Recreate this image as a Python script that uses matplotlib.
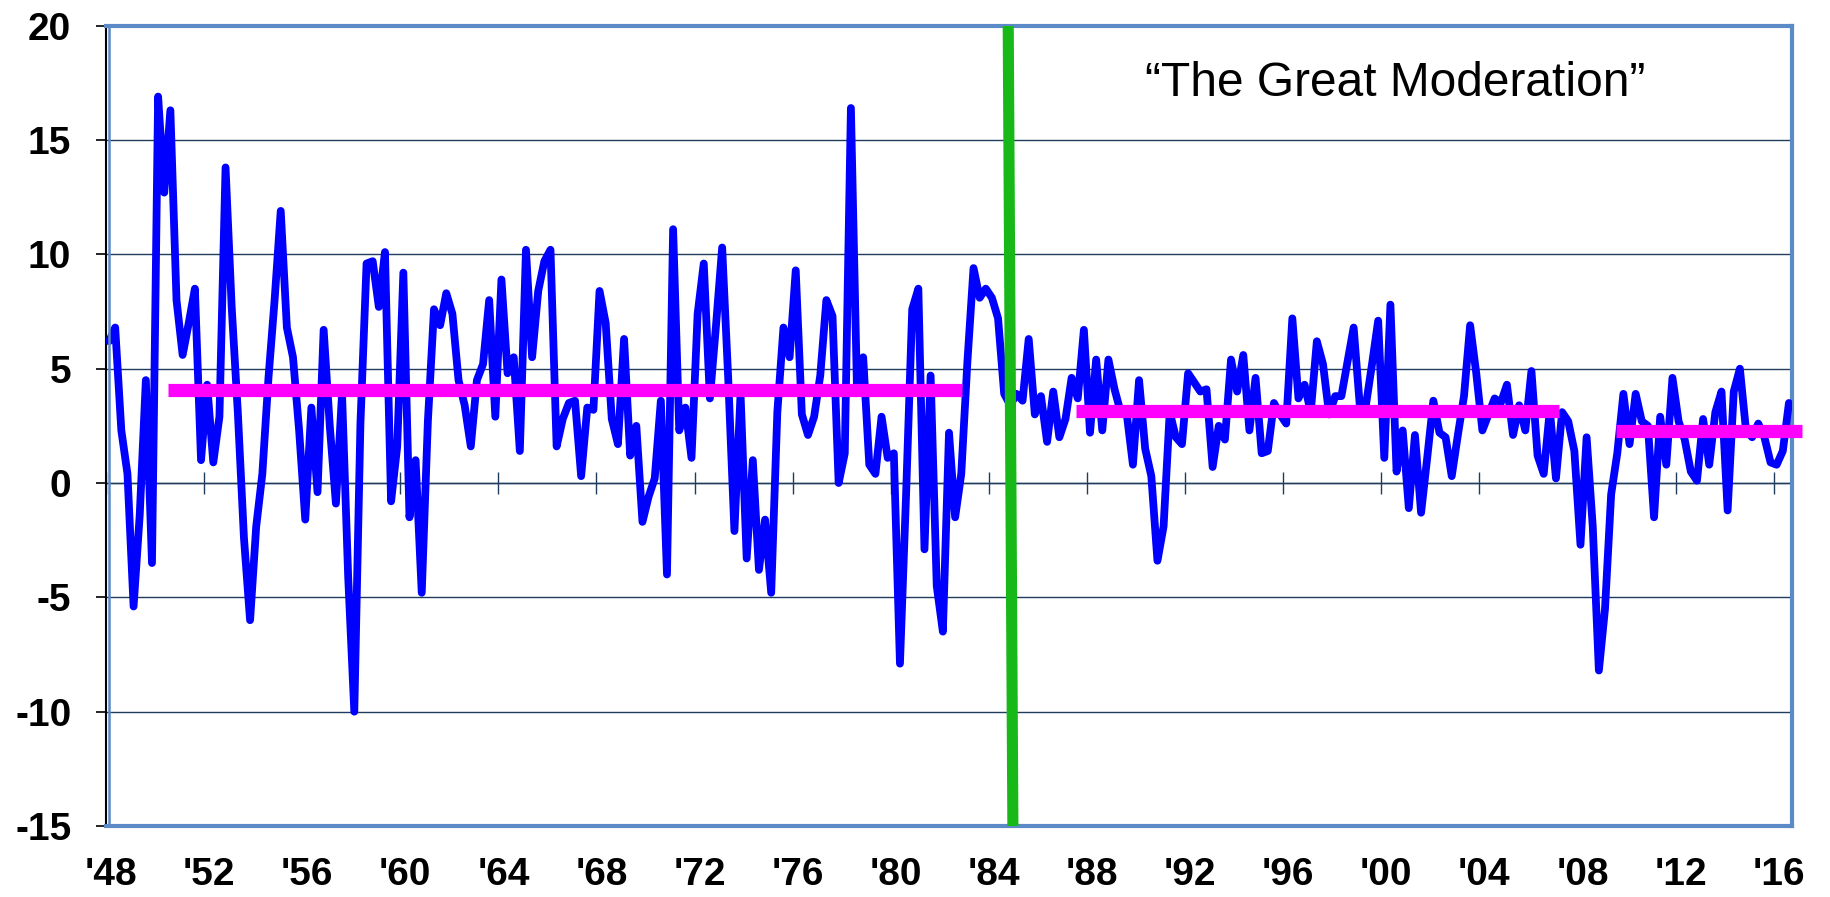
import numpy as np
import matplotlib
matplotlib.use("Agg")
import matplotlib.pyplot as plt
from matplotlib.transforms import offset_copy, ScaledTranslation

plt.rcParams['font.family'] = ['Liberation Sans', 'DejaVu Sans']

# real GDP growth, quarterly, annualized %, 1948Q1 .. 2016Q3
growth = [
    6.2, 6.8, 2.3, 0.4,      # 1948
    -5.4, -1.4, 4.5, -3.5,   # 1949
    16.9, 12.7, 16.3, 8.0,   # 1950
    5.6, 7.0, 8.5, 1.0,      # 1951
    4.3, 0.9, 2.9, 13.8,     # 1952
    7.7, 3.1, -2.4, -6.0,    # 1953
    -1.9, 0.4, 4.6, 8.0,     # 1954
    11.9, 6.8, 5.5, 2.3,     # 1955
    -1.6, 3.3, -0.4, 6.7,    # 1956
    2.5, -0.9, 3.9, -4.1,    # 1957
    -10.0, 2.6, 9.6, 9.7,    # 1958
    7.7, 10.1, -0.8, 1.6,    # 1959
    9.2, -1.5, 1.0, -4.8,    # 1960
    2.7, 7.6, 6.9, 8.3,      # 1961
    7.4, 4.5, 3.4, 1.6,      # 1962
    4.5, 5.2, 8.0, 2.9,      # 1963
    8.9, 4.8, 5.5, 1.4,      # 1964
    10.2, 5.5, 8.4, 9.7,     # 1965
    10.2, 1.6, 2.8, 3.5,     # 1966
    3.6, 0.3, 3.3, 3.2,      # 1967
    8.4, 7.0, 2.8, 1.7,      # 1968
    6.3, 1.2, 2.5, -1.7,     # 1969
    -0.6, 0.2, 3.6, -4.0,    # 1970
    11.1, 2.3, 3.3, 1.1,     # 1971
    7.4, 9.6, 3.7, 6.9,      # 1972
    10.3, 4.5, -2.1, 3.9,    # 1973
    -3.3, 1.0, -3.8, -1.6,   # 1974
    -4.8, 3.1, 6.8, 5.5,     # 1975
    9.3, 3.0, 2.1, 2.9,      # 1976
    4.7, 8.0, 7.3, 0.0,      # 1977
    1.3, 16.4, 4.0, 5.5,     # 1978
    0.8, 0.4, 2.9, 1.1,      # 1979
    1.3, -7.9, -0.5, 7.6,    # 1980
    8.5, -2.9, 4.7, -4.5,    # 1981
    -6.5, 2.2, -1.5, 0.4,    # 1982
    5.3, 9.4, 8.1, 8.5,      # 1983
    8.1, 7.2, 3.9, 3.4,      # 1984
    3.9, 3.6, 6.3, 3.0,      # 1985
    3.8, 1.8, 4.0, 2.0,      # 1986
    2.8, 4.6, 3.7, 6.7,      # 1987
    2.2, 5.4, 2.3, 5.4,      # 1988
    4.1, 3.1, 3.0, 0.8,      # 1989
    4.5, 1.5, 0.3, -3.4,     # 1990
    -1.9, 3.1, 2.0, 1.7,     # 1991
    4.8, 4.4, 4.0, 4.1,      # 1992
    0.7, 2.5, 1.9, 5.4,      # 1993
    4.0, 5.6, 2.3, 4.6,      # 1994
    1.3, 1.4, 3.5, 3.0,      # 1995
    2.6, 7.2, 3.7, 4.3,      # 1996
    3.1, 6.2, 5.2, 3.0,      # 1997
    3.8, 3.8, 5.3, 6.8,      # 1998
    3.4, 3.4, 5.2, 7.1,      # 1999
    1.1, 7.8, 0.5, 2.3,      # 2000
    -1.1, 2.1, -1.3, 1.1,    # 2001
    3.6, 2.2, 2.0, 0.3,      # 2002
    2.1, 3.8, 6.9, 4.8,      # 2003
    2.3, 3.0, 3.7, 3.5,      # 2004
    4.3, 2.1, 3.4, 2.3,      # 2005
    4.9, 1.2, 0.4, 3.2,      # 2006
    0.2, 3.1, 2.7, 1.4,      # 2007
    -2.7, 2.0, -1.9, -8.2,   # 2008
    -5.5, -0.5, 1.3, 3.9,    # 2009
    1.7, 3.9, 2.7, 2.5,      # 2010
    -1.5, 2.9, 0.8, 4.6,     # 2011
    2.7, 1.9, 0.5, 0.1,      # 2012
    2.8, 0.8, 3.1, 4.0,      # 2013
    -1.2, 4.0, 5.0, 2.3,     # 2014
    2.0, 2.6, 2.0, 0.9,      # 2015
    0.8, 1.4, 3.5,           # 2016
]
first_year = 1948

# period averages (magenta bars)
avg_values = [4.05, 3.13, 2.26]
avg_start = [1950.54, 1987.57, 2009.56]
avg_end = [1982.92, 2007.23, 2017.14]

# green divider (start of the Great Moderation)
divider_top = 1984.79
divider_bottom = 1984.98

tick_years = list(range(1948, 2017, 4))
tick_labels = ["'%02d" % (y % 100) for y in tick_years]
y_ticks = [-15, -10, -5, 0, 5, 10, 15, 20]

n = len(growth)
x = first_year + 0.125 + 0.25 * np.arange(n)

fig = plt.figure(figsize=(18.3, 8.97), dpi=100)
ax = fig.add_axes([106 / 1830, 1 - 826 / 897, (1792 - 106) / 1830, (826 - 25.7) / 897])

ax.set_xlim(first_year, first_year + n * 0.25)
ax.set_ylim(-15, 20)

ax.plot(x, growth, color='#0000ff', lw=5.6, solid_joinstyle='round',
        solid_capstyle='round', zorder=3)

for v, s, e in zip(avg_values, avg_start, avg_end):
    ax.plot([s, e], [v, v], color='#ff00ff', lw=9.5, solid_capstyle='butt',
            zorder=4, clip_on=False)

ax.plot([divider_top, divider_bottom], [20, -15], color='#17b817', lw=8,
        solid_capstyle='butt', zorder=5)

# grid
ax.set_yticks(y_ticks)
ax.set_yticklabels([str(v) for v in y_ticks], fontsize=28, fontweight='bold')
ax.yaxis.grid(True, color='#1f3d5c', lw=1.0)
ax.set_axisbelow(True)
ax.tick_params(axis='y', direction='out', length=7, width=1.2, color='black', pad=18)

ax.set_xticks(tick_years)
ax.set_xticklabels(tick_labels, fontsize=28, fontweight='bold')
ax.tick_params(axis='x', length=0, pad=22)
shift = ScaledTranslation(5 / 100, 0, fig.dpi_scale_trans)
for lbl in ax.get_xticklabels():
    lbl.set_transform(lbl.get_transform() + shift)

# small ticks crossing the zero line
zero_frac = (0 - (-15)) / (20 - (-15))
secax = ax.secondary_xaxis(zero_frac)
secax.set_ticks(tick_years)
secax.tick_params(direction='inout', length=16, width=1.0, color='#1f3d5c',
                  labelbottom=False, labeltop=False)
for sp in secax.spines.values():
    sp.set_color('#1f3d5c')
    sp.set_linewidth(1.0)

for side in ['top', 'right', 'bottom']:
    ax.spines[side].set_color('#5b8ac6')
    ax.spines[side].set_linewidth(3)
ax.spines['left'].set_color('black')
ax.spines['left'].set_linewidth(1.5)
ax.plot([0, 0], [0, 1], transform=offset_copy(ax.transAxes, fig=fig, x=2.5, units='dots'),
        color='#5b8ac6', lw=1.8, clip_on=False, zorder=6)

fig.text(1395 / 1830, 1 - 96 / 897, '\u201cThe Great Moderation\u201d', ha='center',
         va='baseline', fontsize=34.5)

fig.savefig('out.png', dpi=100)
